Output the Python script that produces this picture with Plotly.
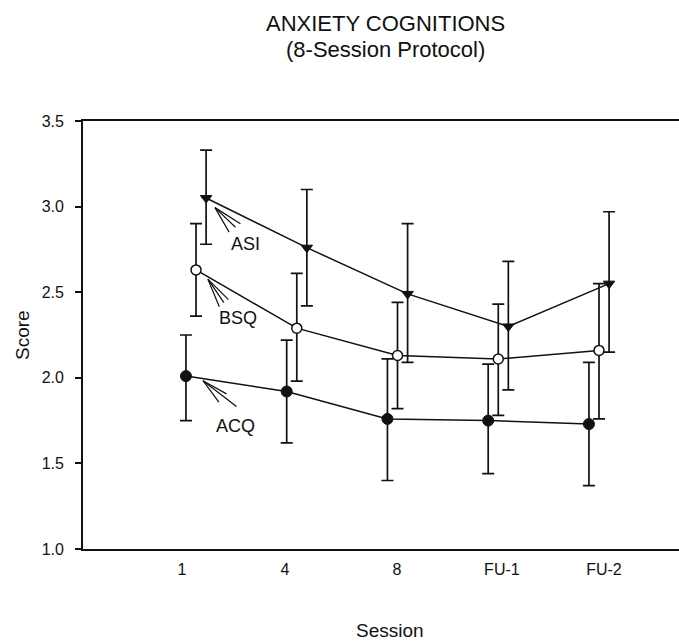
import numpy as np
import plotly.graph_objects as go

sessions = ["1", "4", "8", "FU-1", "FU-2"]

asi_mean = [3.05, 2.76, 2.49, 2.30, 2.55]
asi_upper = [3.33, 3.10, 2.90, 2.68, 2.97]
asi_lower = [2.78, 2.42, 2.09, 1.93, 2.15]

bsq_mean = [2.63, 2.29, 2.13, 2.11, 2.16]
bsq_upper = [2.90, 2.61, 2.44, 2.43, 2.55]
bsq_lower = [2.36, 1.98, 1.82, 1.78, 1.76]

acq_mean = [2.01, 1.92, 1.76, 1.75, 1.73]
acq_upper = [2.25, 2.22, 2.11, 2.08, 2.09]
acq_lower = [1.75, 1.62, 1.40, 1.44, 1.37]

y_ticks = [1.0, 1.5, 2.0, 2.5, 3.0, 3.5]

FONT = "Liberation Sans, Arial, Helvetica, sans-serif"
INK = "#111111"

idx = np.arange(len(sessions), dtype=float)
offsets = {"ACQ": 0.0, "BSQ": 0.1, "ASI": 0.2}


def err(mean, upper, lower):
    m = np.array(mean)
    return dict(type="data", symmetric=False,
                array=list(np.array(upper) - m),
                arrayminus=list(m - np.array(lower)),
                color=INK, thickness=1.7, width=6)


fig = go.Figure()

fig.add_trace(go.Scatter(
    x=idx + offsets["ACQ"], y=acq_mean, mode="lines+markers", name="ACQ",
    line=dict(color=INK, width=1.5),
    marker=dict(symbol="circle", size=11, color=INK, line=dict(color=INK, width=1)),
    error_y=err(acq_mean, acq_upper, acq_lower)))

fig.add_trace(go.Scatter(
    x=idx + offsets["BSQ"], y=bsq_mean, mode="lines+markers", name="BSQ",
    line=dict(color=INK, width=1.5),
    marker=dict(symbol="circle", size=10, color="white", line=dict(color=INK, width=1.5)),
    error_y=err(bsq_mean, bsq_upper, bsq_lower)))

fig.add_trace(go.Scatter(
    x=idx + offsets["ASI"], y=asi_mean, mode="lines+markers", name="ASI",
    line=dict(color=INK, width=1.5),
    marker=dict(symbol="triangle-down", size=10, color=INK, line=dict(color=INK, width=1)),
    error_y=err(asi_mean, asi_upper, asi_lower)))

annotations = []

# Series labels
for txt, x, y in [("ASI", 0.586, 2.779), ("BSQ", 0.516, 2.349), ("ACQ", 0.496, 1.721)]:
    annotations.append(dict(x=x, y=y, xref="x", yref="y", text=txt, showarrow=False,
                            font=dict(family=FONT, size=18, color=INK),
                            xanchor="center", yanchor="middle"))

# Fan-style pointers (tip in data coords, tails as pixel offsets)
pointers = [
    ((0.288, 2.994), [(15, 26), (22, 21), (27, 17)]),
    ((0.218, 2.576), [(12, 29), (17, 25), (22, 22)]),
    ((0.169, 1.983), [(17, 23), (25, 14), (35, 27)]),
]
for (tx, ty), tails in pointers:
    for ax, ay in tails:
        annotations.append(dict(x=tx, y=ty, xref="x", yref="y", text="",
                                showarrow=True, arrowhead=0, arrowwidth=1.2,
                                arrowcolor=INK, ax=ax, ay=ay, standoff=0,
                                startstandoff=0))

# Title (two lines)
annotations.append(dict(x=0.508, y=1, xref="paper", yref="paper", yshift=98,
                        text="ANXIETY COGNITIONS", showarrow=False,
                        font=dict(family=FONT, size=22, color=INK),
                        xanchor="center", yanchor="middle"))
annotations.append(dict(x=0.508, y=1, xref="paper", yref="paper", yshift=72,
                        text="(8-Session Protocol)", showarrow=False,
                        font=dict(family=FONT, size=22, color=INK),
                        xanchor="center", yanchor="middle"))

# Axis titles
annotations.append(dict(x=0, y=0.5, xref="paper", yref="paper", xshift=-61,
                        text="Score", showarrow=False, textangle=-90,
                        font=dict(family=FONT, size=19, color=INK),
                        xanchor="center", yanchor="middle"))
annotations.append(dict(x=0.515, y=0, xref="paper", yref="paper", yshift=-81,
                        text="Session", showarrow=False,
                        font=dict(family=FONT, size=19, color=INK),
                        xanchor="center", yanchor="middle"))

tick_pos = [-0.04, 0.983, 2.094, 3.136, 4.149]

fig.update_layout(
    width=679, height=643,
    margin=dict(l=83, r=0, t=121, b=94, pad=0),
    paper_bgcolor="white", plot_bgcolor="white",
    showlegend=False,
    annotations=annotations,
    font=dict(family=FONT, color=INK),
    xaxis=dict(range=[-1.022, 4.894], showgrid=False, zeroline=False,
               showline=True, mirror=True, linecolor=INK, linewidth=1.7,
               ticks="", tickvals=tick_pos, ticktext=sessions,
               tickfont=dict(family=FONT, size=16, color=INK),
               ticklabelstandoff=5),
    yaxis=dict(range=[1.0, 3.5], showgrid=False, zeroline=False,
               showline=True, linecolor=INK, linewidth=1.7,
               ticks="outside", ticklen=6, tickwidth=1.7, tickcolor=INK,
               tickvals=y_ticks, ticktext=[f"{v:.1f}" for v in y_ticks],
               tickfont=dict(family=FONT, size=16, color=INK),
               ticklabelstandoff=8),
)

fig.write_html("out.html")
